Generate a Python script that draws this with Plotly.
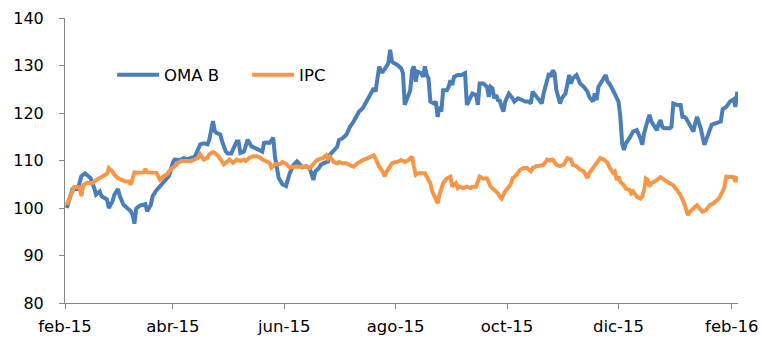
import plotly.graph_objects as go

oma_dates = [
    "2015-02-02","2015-02-05","2015-02-08","2015-02-10","2015-02-12","2015-02-15","2015-02-17","2015-02-18",
    "2015-02-20","2015-02-21","2015-02-24","2015-02-25","2015-02-27","2015-02-28","2015-03-02","2015-03-03",
    "2015-03-05","2015-03-07","2015-03-09","2015-03-10","2015-03-11","2015-03-12","2015-03-14","2015-03-17",
    "2015-03-18","2015-03-20","2015-03-21","2015-03-23","2015-03-25","2015-03-27","2015-03-29","2015-03-30",
    "2015-04-01","2015-04-02","2015-04-05","2015-04-07","2015-04-09","2015-04-11","2015-04-13","2015-04-14",
    "2015-04-16","2015-04-18","2015-04-20","2015-04-21","2015-04-22","2015-04-23","2015-04-24","2015-04-25",
    "2015-04-27","2015-04-28","2015-04-30","2015-05-01","2015-05-03","2015-05-04","2015-05-06","2015-05-07",
    "2015-05-08","2015-05-10","2015-05-11","2015-05-12","2015-05-14","2015-05-16","2015-05-18","2015-05-20",
    "2015-05-21","2015-05-22","2015-05-24","2015-05-26","2015-05-27","2015-05-28","2015-05-29","2015-05-31",
    "2015-06-02","2015-06-04","2015-06-06","2015-06-08","2015-06-10","2015-06-11","2015-06-13","2015-06-15",
    "2015-06-17","2015-06-18","2015-06-20","2015-06-21","2015-06-23","2015-06-25","2015-06-26","2015-06-28",
    "2015-06-30","2015-07-01","2015-07-03","2015-07-05","2015-07-07","2015-07-09","2015-07-11","2015-07-12",
    "2015-07-14","2015-07-16","2015-07-18","2015-07-20","2015-07-21","2015-07-22","2015-07-23","2015-07-24",
    "2015-07-25","2015-07-27","2015-07-28","2015-07-29","2015-07-30","2015-07-31","2015-08-02","2015-08-04",
    "2015-08-05","2015-08-06","2015-08-07","2015-08-09","2015-08-10","2015-08-11","2015-08-12","2015-08-13",
    "2015-08-15","2015-08-16","2015-08-17","2015-08-18","2015-08-19","2015-08-20","2015-08-22","2015-08-23",
    "2015-08-24","2015-08-25","2015-08-26","2015-08-27","2015-08-29","2015-08-30","2015-08-31","2015-09-01",
    "2015-09-02","2015-09-04","2015-09-06","2015-09-08","2015-09-09","2015-09-11","2015-09-12","2015-09-14",
    "2015-09-15","2015-09-16","2015-09-18","2015-09-20","2015-09-21","2015-09-22","2015-09-23","2015-09-24",
    "2015-09-25","2015-09-26","2015-09-27","2015-09-28","2015-09-29","2015-09-30","2015-10-02","2015-10-04",
    "2015-10-05","2015-10-07","2015-10-09","2015-10-11","2015-10-13","2015-10-14","2015-10-15","2015-10-17",
    "2015-10-19","2015-10-20","2015-10-21","2015-10-23","2015-10-24","2015-10-25","2015-10-26","2015-10-27",
    "2015-10-28","2015-10-30","2015-10-31","2015-11-02","2015-11-04","2015-11-05","2015-11-06","2015-11-08",
    "2015-11-10","2015-11-12","2015-11-14","2015-11-15","2015-11-17","2015-11-18","2015-11-19","2015-11-20",
    "2015-11-22","2015-11-24","2015-11-25","2015-11-26","2015-11-28","2015-11-30","2015-12-01","2015-12-02",
    "2015-12-03","2015-12-04","2015-12-05","2015-12-07","2015-12-09","2015-12-11","2015-12-13","2015-12-14",
    "2015-12-15","2015-12-17","2015-12-18","2015-12-19","2015-12-21","2015-12-22","2015-12-23","2015-12-24",
    "2015-12-25","2015-12-26","2015-12-27","2015-12-29","2015-12-30","2015-12-31","2016-01-02","2016-01-04",
    "2016-01-05","2016-01-06","2016-01-07","2016-01-08","2016-01-09","2016-01-11","2016-01-12","2016-01-13",
    "2016-01-15","2016-01-16","2016-01-17","2016-01-19","2016-01-20","2016-01-21","2016-01-23","2016-01-25",
    "2016-01-26","2016-01-27","2016-01-29","2016-01-31","2016-02-02","2016-02-03","2016-02-04",
]
oma_values = [
    100.0, 103.9, 104.0, 106.7, 107.3, 106.3, 104.2, 102.8,
    103.5, 102.5, 101.8, 100.0, 101.4, 102.8, 104.0, 102.5,
    100.7, 100.0, 99.3, 98.6, 96.7, 99.9, 100.5, 100.8,
    99.3, 100.7, 102.5, 103.7, 104.6, 105.5, 106.1, 106.8,
    109.5, 110.2, 110.1, 110.5, 110.3, 110.5, 110.8, 111.6,
    113.4, 113.6, 113.4, 114.4, 116.2, 118.3, 116.2, 115.8,
    115.5, 114.0, 111.9, 111.5, 111.5, 112.5, 114.0, 114.0,
    111.6, 111.9, 113.0, 114.4, 113.0, 112.6, 112.3, 111.9,
    113.7, 113.8, 113.7, 114.8, 110.6, 108.5, 106.3, 105.0,
    104.6, 107.3, 109.0, 109.8, 109.0, 108.6, 108.8, 108.3,
    105.9, 107.7, 108.4, 109.1, 109.5, 109.8, 111.2, 112.2,
    112.9, 114.3, 114.7, 115.4, 117.1, 118.2, 119.6, 120.3,
    121.0, 122.4, 123.8, 125.2, 124.5, 126.9, 129.8, 128.7,
    128.7, 129.8, 130.5, 133.3, 130.8, 130.5, 130.1, 129.4,
    128.4, 121.7, 122.8, 124.8, 129.0, 129.8, 126.6, 128.7,
    128.4, 127.6, 129.8, 128.0, 127.3, 122.4, 122.0, 122.4,
    119.2, 121.3, 120.3, 124.8, 124.8, 125.5, 126.9, 125.9,
    127.6, 128.0, 128.0, 128.4, 121.7, 123.1, 124.1, 123.8,
    121.7, 126.2, 126.2, 125.5, 123.4, 125.5, 125.2, 123.1,
    123.8, 122.7, 122.6, 121.3, 120.3, 122.4, 124.1, 123.1,
    122.4, 123.1, 122.7, 122.4, 122.4, 122.0, 124.5, 123.4,
    122.4, 122.0, 124.1, 127.6, 128.4, 127.6, 129.0, 128.4,
    124.8, 122.0, 123.1, 124.1, 128.0, 126.2, 127.3, 128.0,
    126.2, 125.5, 124.5, 123.4, 122.4, 124.1, 122.7, 125.5,
    126.9, 128.0, 126.6, 126.2, 124.8, 123.4, 122.4, 119.2,
    113.6, 112.2, 113.6, 114.7, 116.1, 116.4, 114.7, 113.3,
    115.7, 118.5, 119.6, 118.2, 117.1, 116.4, 117.8, 118.5,
    117.1, 116.8, 116.8, 116.8, 117.1, 122.0, 121.7, 121.7,
    119.2, 119.2, 118.9, 118.2, 117.1, 116.1, 117.8, 119.2,
    116.8, 115.0, 113.3, 115.4, 116.8, 117.5, 117.8, 118.2,
    118.2, 120.8, 121.3, 122.4, 122.9, 121.3, 124.5,
]

ipc_dates = [
    "2015-02-02","2015-02-03","2015-02-05","2015-02-06","2015-02-08","2015-02-09","2015-02-10","2015-02-11",
    "2015-02-13","2015-02-16","2015-02-17","2015-02-18","2015-02-20","2015-02-22","2015-02-24","2015-02-25",
    "2015-02-27","2015-02-28","2015-03-02","2015-03-04","2015-03-06","2015-03-08","2015-03-09","2015-03-11",
    "2015-03-13","2015-03-16","2015-03-17","2015-03-18","2015-03-20","2015-03-23","2015-03-25","2015-03-27",
    "2015-03-29","2015-03-30","2015-04-01","2015-04-03","2015-04-04","2015-04-05","2015-04-06","2015-04-09",
    "2015-04-11","2015-04-13","2015-04-15","2015-04-16","2015-04-18","2015-04-20","2015-04-21","2015-04-23",
    "2015-04-24","2015-04-26","2015-04-28","2015-04-29","2015-04-30","2015-05-02","2015-05-04","2015-05-06",
    "2015-05-08","2015-05-10","2015-05-11","2015-05-13","2015-05-15","2015-05-17","2015-05-19","2015-05-20",
    "2015-05-22","2015-05-24","2015-05-25","2015-05-27","2015-05-28","2015-05-30","2015-05-31","2015-06-02",
    "2015-06-04","2015-06-06","2015-06-10","2015-06-13","2015-06-15","2015-06-17","2015-06-19","2015-06-21",
    "2015-06-22","2015-06-24","2015-06-25","2015-06-26","2015-06-28","2015-06-30","2015-07-01","2015-07-03",
    "2015-07-05","2015-07-07","2015-07-09","2015-07-11","2015-07-12","2015-07-14","2015-07-16","2015-07-18",
    "2015-07-20","2015-07-21","2015-07-22","2015-07-23","2015-07-25","2015-07-26","2015-07-27","2015-07-29",
    "2015-07-30","2015-08-01","2015-08-02","2015-08-04","2015-08-06","2015-08-08","2015-08-10","2015-08-11",
    "2015-08-12","2015-08-13","2015-08-15","2015-08-17","2015-08-19","2015-08-20","2015-08-21","2015-08-23",
    "2015-08-24","2015-08-25","2015-08-27","2015-08-29","2015-08-31","2015-09-01","2015-09-03","2015-09-04",
    "2015-09-05","2015-09-07","2015-09-09","2015-09-11","2015-09-12","2015-09-14","2015-09-16","2015-09-18",
    "2015-09-20","2015-09-22","2015-09-24","2015-09-26","2015-09-27","2015-09-28","2015-09-30","2015-10-02",
    "2015-10-03","2015-10-04","2015-10-06","2015-10-08","2015-10-10","2015-10-12","2015-10-14","2015-10-15",
    "2015-10-17","2015-10-19","2015-10-21","2015-10-23","2015-10-24","2015-10-26","2015-10-28","2015-10-30",
    "2015-11-01","2015-11-03","2015-11-05","2015-11-06","2015-11-08","2015-11-10","2015-11-12","2015-11-14",
    "2015-11-15","2015-11-17","2015-11-19","2015-11-21","2015-11-23","2015-11-25","2015-11-26","2015-11-28",
    "2015-11-29","2015-11-30","2015-12-01","2015-12-02","2015-12-04","2015-12-05","2015-12-07","2015-12-08",
    "2015-12-09","2015-12-11","2015-12-13","2015-12-14","2015-12-15","2015-12-16","2015-12-17","2015-12-18",
    "2015-12-19","2015-12-21","2015-12-24","2015-12-26","2015-12-27","2015-12-29","2015-12-31","2016-01-02",
    "2016-01-04","2016-01-06","2016-01-08","2016-01-09","2016-01-11","2016-01-13","2016-01-15","2016-01-16",
    "2016-01-18","2016-01-20","2016-01-22","2016-01-24","2016-01-25","2016-01-27","2016-01-28","2016-01-29",
    "2016-01-31","2016-02-02","2016-02-03","2016-02-04",
]
ipc_values = [
    100.7, 101.7, 103.8, 104.4, 104.4, 104.2, 102.5, 104.8,
    105.3, 105.2, 105.6, 105.9, 106.3, 106.8, 107.2, 108.4,
    107.7, 107.0, 106.3, 105.9, 105.6, 105.6, 104.9, 107.5,
    107.4, 107.5, 108.2, 107.5, 107.5, 107.4, 106.0, 106.7,
    107.1, 107.8, 108.5, 109.2, 109.5, 109.8, 109.9, 109.9,
    109.9, 110.2, 110.6, 111.3, 110.2, 110.6, 111.3, 111.8,
    111.6, 110.9, 109.9, 109.2, 109.5, 110.2, 109.5, 110.2,
    109.9, 110.2, 109.9, 110.6, 110.9, 110.9, 110.6, 110.2,
    109.9, 109.5, 108.5, 109.2, 109.2, 109.3, 109.7, 109.3,
    108.5, 108.7, 108.7, 108.7, 108.4, 109.4, 110.1, 110.4,
    110.4, 111.1, 110.4, 110.8, 109.7, 109.4, 109.7, 109.4,
    109.4, 109.0, 108.7, 109.4, 109.7, 110.1, 110.4, 110.8,
    111.1, 110.4, 109.4, 108.7, 107.6, 106.6, 107.6, 108.8,
    109.4, 109.7, 109.7, 110.1, 109.7, 110.1, 110.8, 108.7,
    107.0, 107.3, 107.3, 107.3, 105.9, 105.2, 103.5, 101.7,
    101.0, 102.8, 105.2, 106.2, 106.6, 104.5, 105.2, 104.2,
    104.5, 104.2, 104.5, 104.2, 104.5, 104.5, 106.6, 106.2,
    106.2, 104.5, 103.8, 103.1, 102.4, 102.0, 103.5, 104.5,
    105.0, 106.2, 106.9, 108.0, 108.4, 108.4, 107.7, 108.4,
    108.8, 108.9, 109.1, 110.2, 110.0, 110.2, 109.1, 108.8,
    109.1, 110.5, 110.2, 109.1, 108.8, 108.1, 107.7, 106.3,
    107.3, 108.4, 109.5, 110.5, 110.2, 109.5, 108.6, 107.4,
    107.7, 105.9, 106.6, 105.5, 104.8, 104.1, 103.8, 103.1,
    103.5, 102.4, 102.0, 102.4, 103.8, 106.2, 105.9, 104.5,
    105.2, 105.6, 106.5, 105.9, 105.6, 105.2, 104.8, 103.8,
    102.7, 100.9, 98.5, 99.2, 99.9, 100.6, 99.6, 99.2,
    99.6, 100.6, 101.0, 101.7, 102.0, 103.5, 104.5, 106.6,
    106.5, 106.5, 105.5, 106.7,
]

tick_dates = ["2015-02-01", "2015-04-01", "2015-06-01", "2015-08-01",
              "2015-10-01", "2015-12-01", "2016-02-01"]
tick_labels = ["feb-15", "abr-15", "jun-15", "ago-15", "oct-15", "dic-15", "feb-16"]
y_ticks = [80, 90, 100, 110, 120, 130, 140]

FONT = "DejaVu Sans, Verdana, sans-serif"
AXIS_COLOR = "#868686"

fig = go.Figure()
fig.add_trace(go.Scatter(x=oma_dates, y=oma_values, name="OMA B", mode="lines",
                         line=dict(color="#4A7EBB", width=4)))
fig.add_trace(go.Scatter(x=ipc_dates, y=ipc_values, name="IPC", mode="lines",
                         line=dict(color="#F79646", width=4)))

fig.update_layout(
    width=762, height=352,
    margin=dict(l=65, r=24, t=18, b=49, autoexpand=False),
    paper_bgcolor="white", plot_bgcolor="white",
    font=dict(family=FONT, size=16, color="#000000"),
    showlegend=True,
    legend=dict(orientation="h", x=0.07, y=0.8, xanchor="left", yanchor="middle",
                bgcolor="rgba(0,0,0,0)", itemwidth=42,
                entrywidth=78, entrywidthmode="pixels",
                font=dict(family=FONT, size=16.5, color="#000000")),
    xaxis=dict(type="date", range=["2015-02-01", "2016-02-04 10:00"],
               automargin=False,
               tickmode="array", tickvals=tick_dates, ticktext=tick_labels,
               showgrid=False, zeroline=False, showline=True, linecolor=AXIS_COLOR,
               linewidth=1, ticks="outside", ticklen=5, tickcolor=AXIS_COLOR,
               ticklabelstandoff=3,
               tickfont=dict(family=FONT, size=16.5, color="#000000")),
    yaxis=dict(range=[80, 140], tickmode="array", tickvals=y_ticks,
               automargin=False,
               showgrid=False, zeroline=False, showline=True, linecolor=AXIS_COLOR,
               linewidth=1, ticks="outside", ticklen=5, tickcolor=AXIS_COLOR,
               ticklabelstandoff=12,
               tickfont=dict(family=FONT, size=16, color="#000000")),
)

fig.write_html("out.html")
